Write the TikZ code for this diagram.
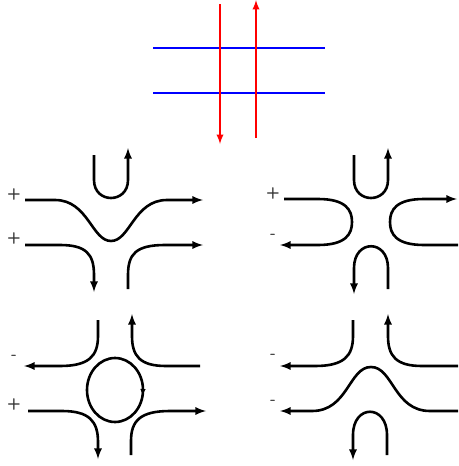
\documentclass[tikz,border=0pt]{standalone}
\usepackage{tikz}
\usetikzlibrary{arrows}

\tikzset{
  linea/.style={line width=2.6pt, black, -latex},
  rojo/.style={line width=2.2pt, red, -latex},
  azul/.style={line width=2.2pt, blue},
  signo/.style={font=\sffamily\bfseries\fontsize{16}{18}\selectfont, text=black!80, inner sep=0pt}
}

\begin{document}
\begin{tikzpicture}[x=1pt,y=-1pt]
  \useasboundingbox (0,0) rectangle (458,466);
  % Cruce de lineas arriba
  \draw[azul] (153,48) -- (325,48);
  \draw[azul] (153,93) -- (325,93);
  \draw[rojo] (220,4) -- (220,144);
  \draw[rojo] (256,138) -- (256,0);

  % Panel superior izquierdo
  \node[signo] (s1) at (14,194) {+};
  \node[signo] (s2) at (14,238) {+};
  \draw[linea] (94,155) -- (94,180) .. controls (94,204) and (128,204) .. (128,180) -- (128,148);
  \draw[linea] (25,200) -- (55,200) .. controls (88,200) and (92,241) .. (111,241)
               .. controls (130,241) and (134,200) .. (167,200) -- (203,200);
  \draw[linea] (25,245) -- (60,245) .. controls (86,245) and (94,254) .. (94,275) -- (94,292);
  \draw[linea] (128,289) -- (128,275) .. controls (128,254) and (136,245) .. (165,245) -- (203,245);

  % Panel superior derecho
  \node[signo] (s3) at (273,193) {+};
  \node[signo] (s4) at (273,236) {-};
  \draw[linea] (354,155) -- (354,180) .. controls (354,204) and (388,204) .. (388,180) -- (388,148);
  \draw[linea] (284,199) -- (318,199) .. controls (346,199) and (352,210) .. (352,222)
               .. controls (352,234) and (346,245) .. (318,245) -- (280,245);
  \draw[linea] (458,245) -- (424,245) .. controls (396,245) and (390,234) .. (390,222)
               .. controls (390,210) and (396,199) .. (424,199) -- (457,199);
  \draw[linea] (388,289) -- (388,268) .. controls (388,239) and (354,239) .. (354,268) -- (354,294);

  % Panel inferior izquierdo
  \node[signo] (s5) at (14,357) {-};
  \node[signo] (s6) at (14,404) {+};
  \draw[linea] (98,320) -- (98,336) .. controls (98,356) and (89,366) .. (60,366) -- (24,366);
  \draw[linea] (200,366) -- (166,366) .. controls (140,366) and (132,356) .. (132,336) -- (132,314);
  \draw[line width=2.6pt] (115,390) ellipse (28 and 32);
  \draw[-latex, line width=1.4pt] (143,388) -- (142.6,396);
  \draw[linea] (28,411) -- (62,411) .. controls (89,411) and (98,421) .. (98,442) -- (98,459);
  \draw[linea] (131,455) -- (131,441) .. controls (131,421) and (140,411) .. (170,411) -- (206,411);

  % Panel inferior derecho
  \node[signo] (s7) at (273,356) {-};
  \node[signo] (s8) at (273,402) {-};
  \draw[linea] (353,320) -- (353,336) .. controls (353,356) and (344,366) .. (315,366) -- (280,366);
  \draw[linea] (458,366) -- (422,366) .. controls (396,366) and (388,356) .. (388,336) -- (388,314);
  \draw[linea] (458,411) -- (430,411) .. controls (394,411) and (393,367) .. (371,367)
               .. controls (349,367) and (348,411) .. (312,411) -- (280,411);
  \draw[linea] (387,455) -- (387,435) .. controls (387,404) and (353,404) .. (353,435) -- (353,460);
\end{tikzpicture}
\end{document}
